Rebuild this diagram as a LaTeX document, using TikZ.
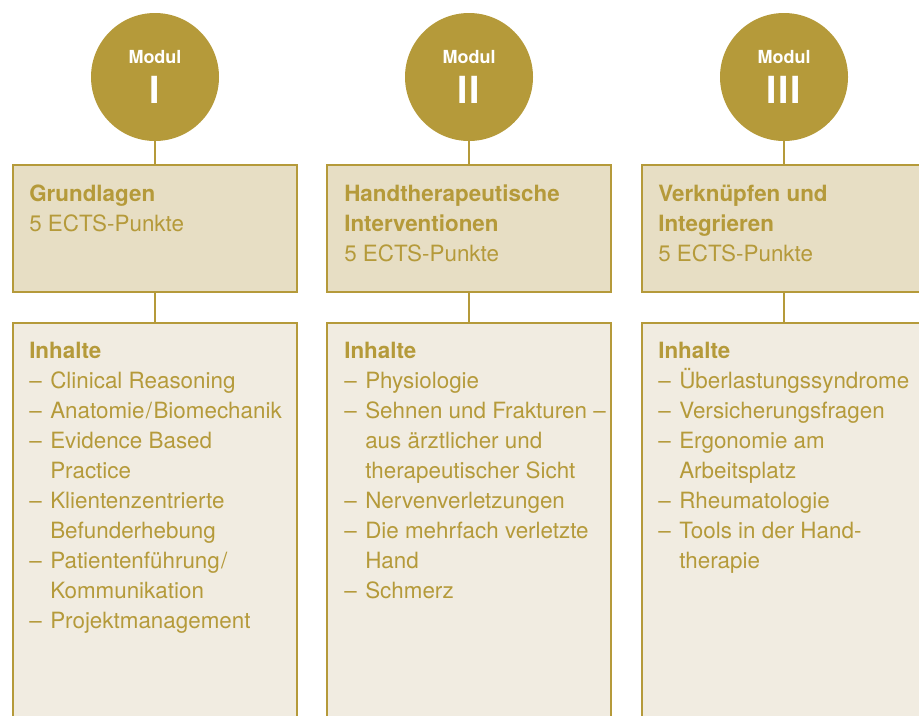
\documentclass[tikz,border=0pt]{standalone}
\usepackage{fontspec}
\setmainfont{TeX Gyre Heros}
\usepackage{tikz}
\usetikzlibrary{positioning}
\usepackage{xcolor}
\definecolor{modulgold}{RGB}{181,154,58}
\definecolor{kopfbeige}{RGB}{231,222,196}
\definecolor{inhaltbeige}{RGB}{241,236,225}

\tikzset{
  modulkreis/.style={circle,fill=modulgold,minimum size=96pt,inner sep=0pt},
  kopfbox/.style={draw=modulgold,fill=kopfbeige,line width=1.5pt,
    minimum width=213pt,minimum height=95.25pt,inner sep=0pt},
  inhaltbox/.style={draw=modulgold,fill=inhaltbeige,line width=1.5pt,
    minimum width=213pt,minimum height=307.5pt,inner sep=0pt},
  verbinder/.style={modulgold,line width=1.2pt},
  boxtext/.style={text=modulgold,anchor=north west,inner sep=0pt,
    font=\fontsize{16.8}{22.5}\selectfont},
  modultext/.style={text=white,anchor=base,inner sep=0pt,
    font=\bfseries\fontsize{13.5}{15}\selectfont},
  modulnr/.style={text=white,anchor=base,inner sep=0pt,
    font=\bfseries\fontsize{28}{30}\selectfont},
}

\begin{document}
\begin{tikzpicture}[x=0.75pt,y=-0.75pt]
  \useasboundingbox (0,0) rectangle (919,715);
  \clip (0,0) rectangle (919,715);

  % Modul I
  \node[modulkreis] (modul1) at (155,77) {};
  \node[modultext] (modulname1) at (155,63) {Modul};
  \node[modulnr] (modulnr1) at (155,103) {I};
  \node[kopfbox] (kopf1) at (155,228.5) {};
  \node[inhaltbox] (inhalt1) at (155,528) {};
  \draw[verbinder] (modul1) -- (kopf1);
  \draw[verbinder] (kopf1) -- (inhalt1);
  \node[boxtext] (titel1) at (29,180.5)
    {\begin{tabular}{@{}l@{}}\textbf{Grundlagen}\\5 ECTS-Punkte\end{tabular}};
  \node[boxtext] (liste1) at (29,337.5)
    {\begin{tabular}{@{}p{15.75pt}@{}l@{}}
      \multicolumn{2}{@{}l@{}}{\textbf{Inhalte}}\\
      – & Clinical Reasoning\\
      – & Anatomie\kern1pt/\kern1ptBiomechanik\\
      – & Evidence Based\\
        & Practice\\
      – & Klientenzentrierte\\
        & Befunderhebung\\
      – & Patientenführung\kern1pt/\\
        & Kommunikation\\
      – & Projektmanagement
    \end{tabular}};

  % Modul II
  \node[modulkreis] (modul2) at (469,77) {};
  \node[modultext] (modulname2) at (469,63) {Modul};
  \node[modulnr] (modulnr2) at (469,103) {I\kern1.3ptI};
  \node[kopfbox] (kopf2) at (469,228.5) {};
  \node[inhaltbox] (inhalt2) at (469,528) {};
  \draw[verbinder] (modul2) -- (kopf2);
  \draw[verbinder] (kopf2) -- (inhalt2);
  \node[boxtext] (titel2) at (344,180.5)
    {\begin{tabular}{@{}l@{}}\textbf{Handtherapeutische}\\
      \textbf{Interventionen}\\5 ECTS-Punkte\end{tabular}};
  \node[boxtext] (liste2) at (344,337.5)
    {\begin{tabular}{@{}p{15.75pt}@{}l@{}}
      \multicolumn{2}{@{}l@{}}{\textbf{Inhalte}}\\
      – & Physiologie\\
      – & Sehnen und Frakturen –\\
        & aus ärztlicher und\\
        & therapeutischer Sicht\\
      – & Nervenverletzungen\\
      – & Die mehrfach verletzte\\
        & Hand\\
      – & Schmerz
    \end{tabular}};

  % Modul III
  \node[modulkreis] (modul3) at (784,77) {};
  \node[modultext] (modulname3) at (784,63) {Modul};
  \node[modulnr] (modulnr3) at (784,103) {I\kern1.3ptI\kern1.3ptI};
  \node[kopfbox] (kopf3) at (784,228.5) {};
  \node[inhaltbox] (inhalt3) at (784,528) {};
  \draw[verbinder] (modul3) -- (kopf3);
  \draw[verbinder] (kopf3) -- (inhalt3);
  \node[boxtext] (titel3) at (658,180.5)
    {\begin{tabular}{@{}l@{}}\textbf{Verknüpfen und}\\
      \textbf{Integrieren}\\5 ECTS-Punkte\end{tabular}};
  \node[boxtext] (liste3) at (658,337.5)
    {\begin{tabular}{@{}p{15.75pt}@{}l@{}}
      \multicolumn{2}{@{}l@{}}{\textbf{Inhalte}}\\
      – & Überlastungssyndrome\\
      – & Versicherungsfragen\\
      – & Ergonomie am\\
        & Arbeitsplatz\\
      – & Rheumatologie\\
      – & Tools in der Hand-\\
        & therapie
    \end{tabular}};
\end{tikzpicture}
\end{document}
